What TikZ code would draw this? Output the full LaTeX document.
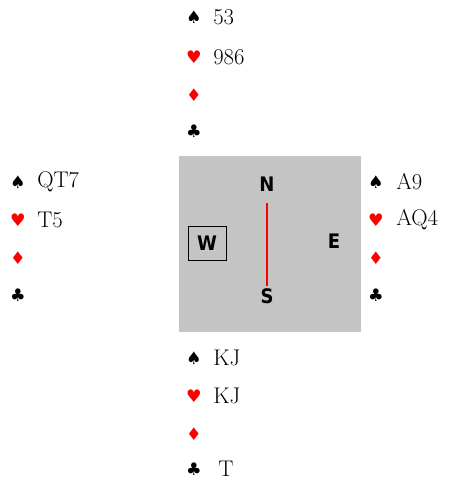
\documentclass[tikz,border=0pt]{standalone}
\usepackage{fontspec}
\newfontfamily\suitfont{DejaVu Sans}
\newfontfamily\seatfont{DejaVu Sans Condensed}
\newcommand{\spadesym}{{\suitfont\char"2660}}
\newcommand{\heartsym}{{\color{red}\suitfont\char"2665}}
\newcommand{\diamsym}{{\color{red}\suitfont\char"2666}}
\newcommand{\clubsym}{{\suitfont\char"2663}}
\tikzset{
    suit/.style={inner sep=0pt, font=\fontsize{13}{15}\selectfont},
    cards/.style={anchor=west, inner sep=0pt, font=\fontsize{17}{20}\selectfont},
    seat/.style={inner sep=2pt, font=\seatfont\bfseries\fontsize{15}{17}\selectfont}
}

\begin{document}
\begin{tikzpicture}[x=0.75pt,y=-0.75pt]
    \useasboundingbox (0,0) rectangle (450,481);
    % table
    \fill[black!23] (179,156) rectangle (361,332);
    \node[seat] (north) at (267,184) {N};
    \node[seat] (south) at (267,296) {S};
    \node[seat] (east) at (334,241) {E};
    \node[seat, draw, thin, minimum width=28.5pt, minimum height=25.5pt] (west) at (207,243) {W};
    \draw[red, line width=1.4pt] (north.south) ++(0,9) coordinate (ntop) -- (south.north) ++(0,-9) coordinate (sbot);
    % north hand
    \node[suit] (ns) at (194,17) {\spadesym};
    \node[cards] (nsc) at (213,17) {53};
    \node[suit] (nh) at (194,57) {\heartsym};
    \node[cards] (nhc) at (213,57) {986};
    \node[suit] (nd) at (194,95) {\diamsym};
    \node[suit] (nc) at (194,131) {\clubsym};
    % west hand
    \node[suit] (ws) at (18,182) {\spadesym};
    \node[cards] (wsc) at (37,182) {QT7};
    \node[suit] (wh) at (18,220) {\heartsym};
    \node[cards] (whc) at (37,220) {T5};
    \node[suit] (wd) at (18,258) {\diamsym};
    \node[suit] (wc) at (18,295) {\clubsym};
    % east hand
    \node[suit] (es) at (376,182) {\spadesym};
    \node[cards] (esc) at (396,182) {A9};
    \node[suit] (eh) at (376,220) {\heartsym};
    \node[cards] (ehc) at (396,220) {AQ4};
    \node[suit] (ed) at (376,258) {\diamsym};
    \node[suit] (ec) at (376,295) {\clubsym};
    % south hand
    \node[suit] (ss) at (194,358) {\spadesym};
    \node[cards] (ssc) at (213,358) {KJ};
    \node[suit] (sh) at (194,396) {\heartsym};
    \node[cards] (shc) at (213,396) {KJ};
    \node[suit] (sd) at (194,434) {\diamsym};
    \node[suit] (sc) at (194,469) {\clubsym};
    \node[cards] (scc) at (218,469) {T};
\end{tikzpicture}
\end{document}
